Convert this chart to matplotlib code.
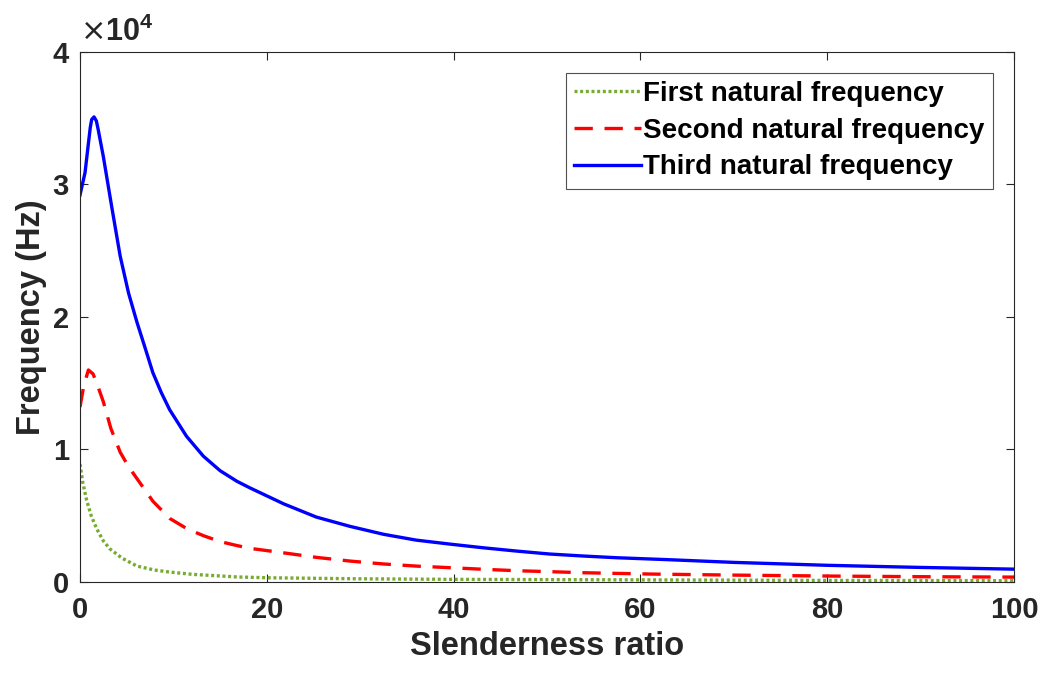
import numpy as np
import matplotlib
matplotlib.use("Agg")
import matplotlib.pyplot as plt

# values (Hz)
sr_third = [0, 0.54, 0.9, 1.1, 1.25, 1.5, 1.75, 1.96, 2.5, 3.4, 4.3, 5.2, 6.1, 7.0, 7.8,
            8.7, 9.6, 11.4, 13.2, 15.0, 16.8, 18.2, 20.3, 21.8, 25.3, 28.9, 32.5, 36.0,
            39.6, 43.2, 46.8, 50.3, 53.9, 57.5, 62.8, 70, 80, 90, 100]
f_third = [29200, 30900, 33100, 34300, 34900, 35100, 34800, 34100, 32100, 28300, 24600,
           21800, 19600, 17600, 15800, 14300, 13000, 11000, 9500, 8400, 7600, 7100,
           6400, 5900, 4900, 4200, 3600, 3160, 2860, 2580, 2330, 2110, 1960, 1830,
           1690, 1480, 1260, 1100, 970]

sr_second = [0, 0.4, 0.9, 1.4, 1.9, 2.5, 3.3, 4.3, 5.2, 6.1, 7.8, 9.6, 11.5, 13.2, 15.0,
             16.8, 18.2, 21.8, 25.3, 28.9, 32.5, 36, 39.6, 43.2, 46.8, 50.3, 53.9,
             57.5, 61.1, 70, 80, 90, 100]
f_second = [13200, 14800, 16000, 15700, 14800, 13600, 11600, 9800, 8700, 7800, 6100,
            4800, 4000, 3500, 3050, 2750, 2540, 2200, 1860, 1580, 1360, 1200, 1080,
            960, 850, 780, 700, 650, 600, 520, 450, 400, 370]

sr_first = [0, 0.3, 0.7, 1.2, 1.8, 2.5, 3.2, 4.5, 6.1, 8, 9.6, 12, 16.8, 20, 30, 40,
            60, 80, 100]
f_first = [8900, 7500, 6200, 5000, 4000, 3100, 2500, 1800, 1200, 900, 750, 580, 380,
           320, 240, 200, 160, 120, 100]

labels = ["First natural frequency", "Second natural frequency", "Third natural frequency"]

plt.rcParams['font.family'] = ['Liberation Sans', 'DejaVu Sans']
plt.rcParams['font.weight'] = 'bold'
plt.rcParams['mathtext.fontset'] = 'custom'
plt.rcParams['mathtext.rm'] = 'DejaVu Sans:weight=normal'
plt.rcParams['mathtext.bf'] = 'Liberation Sans:bold'

ink = "#262626"

fig = plt.figure(figsize=(10.43, 6.74), dpi=100)
ax = fig.add_axes([0.0767, 0.1365, 0.8955, 0.7864])

ax.plot(sr_first, f_first, color="#77AC30", ls=(0, (0.9, 0.8)), lw=2.4, label=labels[0])
ax.plot(sr_second, f_second, color="red", ls=(0, (5.5, 3.5)), lw=2.4, label=labels[1])
ax.plot(sr_third, f_third, color="blue", ls="-", lw=2.4, label=labels[2])

ax.set_xlim(0, 100)
ax.set_ylim(0, 40000)
ax.set_xticks([0, 20, 40, 60, 80, 100])
ax.set_yticks([0, 10000, 20000, 30000, 40000])
ax.set_yticklabels(["0", "1", "2", "3", "4"])
ax.tick_params(direction="in", top=True, right=True, labelsize=21, length=6,
               width=0.8, colors=ink)
ax.tick_params(axis="x", pad=10)
ax.tick_params(axis="y", pad=8)
for s in ax.spines.values():
    s.set_color(ink)
    s.set_linewidth(0.8)

ax.set_xlabel("Slenderness ratio", fontsize=23.5, fontweight="bold", color=ink, labelpad=5)
ax.set_ylabel("Frequency (Hz)", fontsize=23.5, fontweight="bold", color=ink, labelpad=4)
ax.text(0.0, 1.008, r"$\mathrm{\times}\mathbf{10^{4}}$", transform=ax.transAxes,
        fontsize=22, color=ink, ha="left", va="bottom")

leg = ax.legend(loc="upper right", fontsize=20, frameon=True, fancybox=False,
                handlelength=2.4, handletextpad=0.1, borderpad=0.3,
                borderaxespad=0.75, labelspacing=0.38)
leg.get_frame().set_edgecolor(ink)
leg.get_frame().set_linewidth(0.8)

fig.savefig("out.png", dpi=100)
